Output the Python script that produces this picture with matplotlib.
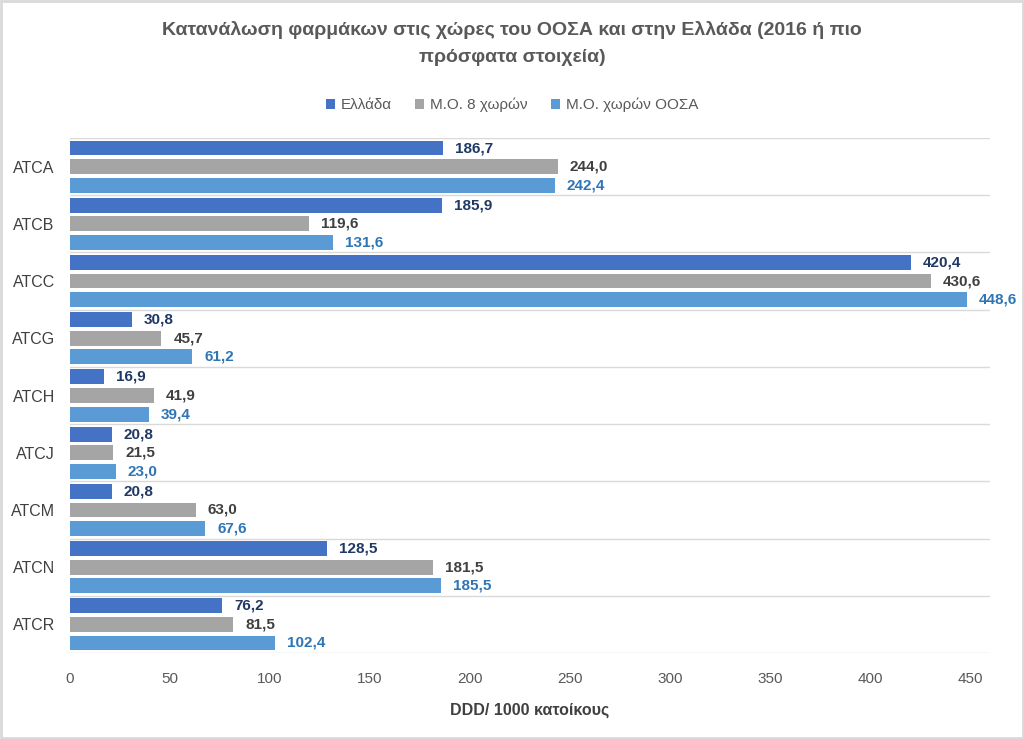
import numpy as np
import matplotlib.pyplot as plt

categories = ['ATCA', 'ATCB', 'ATCC', 'ATCG', 'ATCH', 'ATCJ', 'ATCM', 'ATCN', 'ATCR']
greece = [186.7, 185.9, 420.4, 30.8, 16.9, 20.8, 20.8, 128.5, 76.2]
avg8 = [244.0, 119.6, 430.6, 45.7, 41.9, 21.5, 63.0, 181.5, 81.5]
oecd = [242.4, 131.6, 448.6, 61.2, 39.4, 23.0, 67.6, 185.5, 102.4]
series_names = ['Ελλάδα', 'Μ.Ο. 8 χωρών', 'Μ.Ο. χωρών ΟΟΣΑ']

plt.rcParams['font.family'] = ['Liberation Sans', 'DejaVu Sans']

fig = plt.figure(figsize=(10.24, 7.39), dpi=100)
ax = fig.add_axes([70/1024, 1-653/739, 920/1024, (653-138)/739])

colors = ['#4472C4', '#A5A5A5', '#5B9BD5']
label_colors = ['#1F3864', '#404040', '#2E75B6']
y = np.arange(len(categories))
h = 0.26
off = 0.325
for k, vals in enumerate([greece, avg8, oecd]):
    pos = y + (k - 1) * off
    ax.barh(pos, vals, height=h, color=colors[k], label=series_names[k])
    for p, v in zip(pos, vals):
        ax.text(v + 6, p, f'{v:.1f}'.replace('.', ','), va='center', ha='left',
                fontsize=11, fontweight='bold', color=label_colors[k])

ax.set_ylim(len(categories) - 0.5, -0.5)
ax.set_xlim(0, 460)
for b in np.arange(-0.5, len(categories), 1):
    ax.axhline(b, color='#D9D9D9', lw=1, zorder=0)
ax.set_yticks(y)
ax.set_yticklabels(categories, fontsize=11.5, color='#404040')
ax.set_xticks(np.arange(0, 451, 50))
ax.tick_params(axis='x', labelsize=11, labelcolor='#595959', length=0, pad=14)
ax.tick_params(axis='y', length=0, pad=11)
for s in ax.spines.values():
    s.set_visible(False)
ax.set_xlabel('DDD/ 1000 κατοίκους', fontsize=11.5, fontweight='bold', color='#404040', labelpad=12)

fig.text(0.5, 1-30/739, 'Κατανάλωση φαρμάκων στις χώρες του ΟΟΣΑ και στην Ελλάδα (2016 ή πιο',
         ha='center', va='center', fontsize=14, fontweight='bold', color='#595959')
fig.text(0.5, 1-58/739, 'πρόσφατα στοιχεία)',
         ha='center', va='center', fontsize=14, fontweight='bold', color='#595959')
fig.legend(loc='center', bbox_to_anchor=(0.5, 1-105/739), ncol=3, frameon=False,
           fontsize=11, handlelength=0.6, handleheight=0.6, columnspacing=1.5,
           handletextpad=0.4, labelcolor='#595959')

fig.patches.append(plt.Rectangle((0.001, 0.001), 0.998, 0.998, transform=fig.transFigure,
                                 fill=False, edgecolor='#D9D9D9', lw=2))
fig.savefig('out.png', dpi=100)
